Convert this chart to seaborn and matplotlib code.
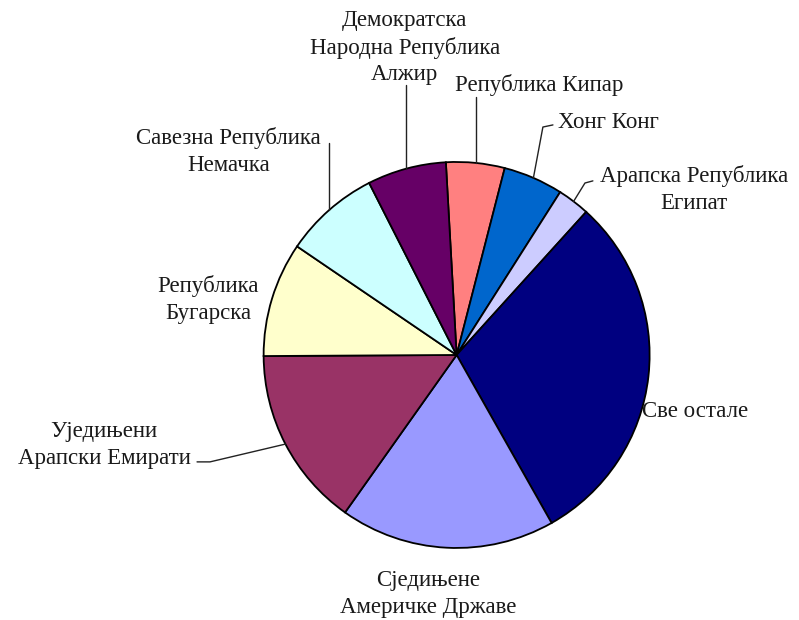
import numpy as np
import matplotlib.pyplot as plt
import seaborn as sns

# trade partners, clockwise from the top
COUNTRIES = ["Република Кипар", "Хонг Конг", "Арапска Република\nЕгипат", "Све остале",
             "Сједињене\nАмеричке Државе", "Уједињени\nАрапски Емирати", "Република\nБугарска",
             "Савезна Република\nНемачка", "Демократска\nНародна Република\nАлжир"]
SHARES = [4.9, 5.0, 2.7, 30.1, 18.0, 15.1, 9.6, 8.0, 6.6]
COLORS = ["#FF8080", "#0066CC", "#CCCCFF", "#000080", "#9999FF", "#993366", "#FFFFCC", "#CCFFFF", "#660066"]

# label text position (pie radius = 1), alignment, leader-line bend points
LABEL_POS = [(0.426, 1.399, "center", [(None, 1.337)]),
             (0.525, 1.202, "left", [(0.447, 1.181), (0.499, 1.192)]),
             (1.230, 0.855, "center", [(0.665, 0.891), (0.706, 0.902)]),
             (0.961, -0.295, "left", []),
             (-0.149, -1.238, "center", []),
             (-1.827, -0.466, "center", [(-1.278, -0.554), (-1.345, -0.554)]),
             (-1.288, 0.285, "center", []),
             (-1.183, 1.054, "center", [(None, 1.098)]),
             (-0.268, 1.591, "center", [(None, 1.399)])]
LINE_STEP = 0.14  # distance between text lines, in pie radii

sns.set_theme(style="white")
plt.rcParams["font.family"] = ["Liberation Serif", "DejaVu Serif"]

fig = plt.figure(figsize=(7.99, 6.2), dpi=100)
ax = fig.add_axes([0, 0, 1, 1])
wedges, _ = ax.pie(SHARES, colors=COLORS, startangle=93.2, counterclock=False, radius=1,
                   wedgeprops=dict(edgecolor="black", linewidth=1.3))

for w, name, (tx, ty, ha, bends) in zip(wedges, COUNTRIES, LABEL_POS):
    if bends:
        mid = np.deg2rad((w.theta1 + w.theta2) / 2)
        x0, y0 = np.cos(mid), np.sin(mid)
        # a bend without x means a straight vertical leader
        xs = [x0] + [x0 if b[0] is None else b[0] for b in bends]
        ys = [y0] + [b[1] for b in bends]
        ax.plot(xs, ys, color="#222222", lw=1.0)
    lines = name.split("\n")
    for i, line in enumerate(lines):
        y = ty + (len(lines) - 1) / 2 * LINE_STEP - i * LINE_STEP
        ax.text(tx, y, line, ha=ha, va="center", fontsize=16.5, color="#1a1a1a")

ax.set_xlim(-2.366, 1.774)
ax.set_ylim(-1.373, 1.839)
ax.set_aspect("equal")
ax.axis("off")
fig.savefig("out.png", dpi=100)
